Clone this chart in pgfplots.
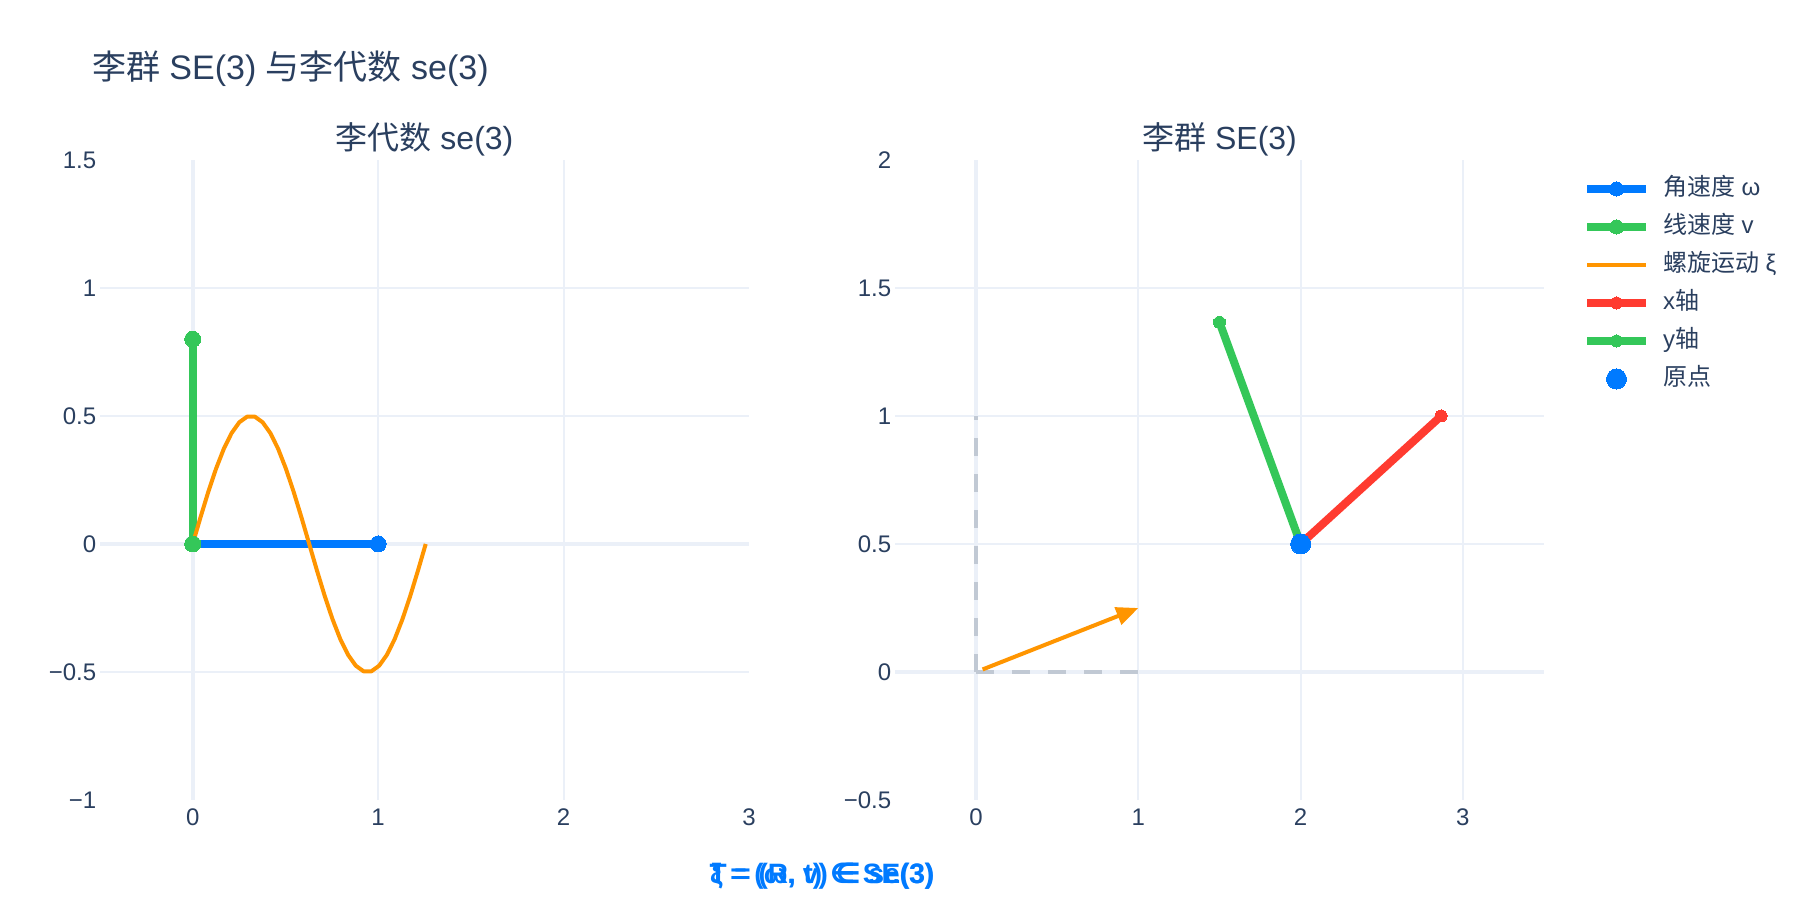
\documentclass[border=0pt]{standalone}
\usepackage{fontspec}
\setmainfont{Liberation Sans}
\newfontfamily\cjk{Noto Sans CJK SC}
\newfontfamily\dejavu{DejaVu Sans}
\usepackage{pgfplots}
\pgfplotsset{compat=1.18}
\usetikzlibrary{arrows.meta}
\definecolor{txt}{HTML}{2A3F5F}
\definecolor{gridc}{HTML}{EBF0F8}
\definecolor{cblue}{HTML}{007AFF}
\definecolor{cgreen}{HTML}{34C759}
\definecolor{corange}{HTML}{FF9500}
\definecolor{cred}{HTML}{FF3B30}
\definecolor{cdash}{HTML}{C1C9D4}

\pgfplotsset{
  base/.style={
    scale only axis, width=324.5bp, height=320bp,
    anchor=south west,
    axis line style={draw=none}, major tick length=0pt, tick style={draw=none},
    grid=major, grid style={gridc, line width=1bp},
    ticklabel style={font=\fontsize{12bp}{14bp}\selectfont, text=txt, inner sep=0pt},
    yticklabel style={anchor=east, xshift=-1.7bp},
    xticklabel style={anchor=north, yshift=-4.4bp},
    extra tick style={grid=none},
  }
}

\pgfplotstableread{
x y
0.0000 0.0000
0.0419 0.1040
0.0838 0.2034
0.1257 0.2939
0.1676 0.3716
0.2094 0.4330
0.2513 0.4755
0.2932 0.4973
0.3351 0.4973
0.3770 0.4755
0.4189 0.4330
0.4608 0.3716
0.5027 0.2939
0.5445 0.2034
0.5864 0.1040
0.6283 0.0000
0.6702 -0.1040
0.7121 -0.2034
0.7540 -0.2939
0.7959 -0.3716
0.8378 -0.4330
0.8796 -0.4755
0.9215 -0.4973
0.9634 -0.4973
1.0053 -0.4755
1.0472 -0.4330
1.0891 -0.3716
1.1310 -0.2939
1.1729 -0.2034
1.2147 -0.1040
1.2566 0.0000
}\screwtable

\begin{document}
\begin{tikzpicture}
\useasboundingbox (0,0) rectangle (900bp,450bp);

% ---------- left: se(3)
\begin{axis}[base, at={(50bp,50bp)},
  xmin=-0.5, xmax=3, ymin=-1, ymax=1.5,
  xtick={0,1,2}, xticklabels={0,1,2},
  extra x ticks={3}, extra x tick labels={3},
  ytick={-0.5,0,0.5,1}, yticklabels={−0.5,0,0.5,1},
  extra y ticks={-1,1.5}, extra y tick labels={−1,1.5},
]
\addplot[forget plot, gridc, line width=2bp] coordinates {(0,-1) (0,1.5)};
\addplot[forget plot, gridc, line width=2bp] coordinates {(-0.5,0) (3,0)};
\addplot[cblue, line width=4bp, mark=*, mark size=4bp, mark options={draw=none, line width=0pt, fill=cblue}] coordinates {(0,0) (1,0)};
\addplot[cgreen, line width=4bp, mark=*, mark size=4bp, mark options={draw=none, line width=0pt, fill=cgreen}] coordinates {(0,0) (0,0.8)};
\addplot[corange, line width=2bp, line join=round] table[x=x, y=y] {\screwtable};
\end{axis}

% ---------- right: SE(3)
\begin{axis}[base, at={(447.5bp,50bp)},
  xmin=-0.5, xmax=3.5, ymin=-0.5, ymax=2,
  xtick={0,1,2,3}, xticklabels={0,1,2,3},
  ytick={0,0.5,1,1.5}, yticklabels={0,0.5,1,1.5},
  extra y ticks={-0.5,2}, extra y tick labels={−0.5,2},
  legend style={draw=none, fill=none, at={(1,1)}, anchor=north west,
    xshift=19.5bp, yshift=-8.5bp, inner sep=0pt, outer sep=0pt,
    font=\fontsize{12bp}{14bp}\selectfont, text=txt,
    row sep=7bp, column sep=6.5bp,
    nodes={inner sep=0pt, text height=9bp, text depth=3bp}},
  legend cell align=left,
  legend image code/.code={\draw[mark repeat=2, mark phase=2, #1] plot coordinates {(0bp,0bp) (14.75bp,0bp) (29.5bp,0bp)};},
]
\addlegendimage{cblue, line width=4bp, mark=*, mark size=3.5bp, mark options={draw=none, line width=0pt, fill=cblue}}
\addlegendentry{{\cjk 角速度} ω}
\addlegendimage{cgreen, line width=4bp, mark=*, mark size=3.5bp, mark options={draw=none, line width=0pt, fill=cgreen}}
\addlegendentry{{\cjk 线速度} v}
\addlegendimage{corange, line width=2bp}
\addlegendentry{{\cjk 螺旋运动} ξ}

\addplot[forget plot, gridc, line width=2bp] coordinates {(0,-0.5) (0,2)};
\addplot[forget plot, gridc, line width=2bp] coordinates {(-0.5,0) (3.5,0)};
\addplot[forget plot, cdash, line width=2bp, dash pattern=on 9bp off 9bp] coordinates {(0,0) (1,0)};
\addplot[forget plot, cdash, line width=2bp, dash pattern=on 9bp off 9bp] coordinates {(0,0) (0,1)};
\addplot[forget plot, corange, line width=2bp, -{Triangle[length=11bp,width=9bp]}] coordinates {(0.04,0.01) (1,0.25)};

\addplot[cred, line width=4bp, mark=*, mark size=3bp, mark options={draw=none, line width=0pt, fill=cred}] coordinates {(2,0.5) (2.866,1.0)};
\addlegendentry{x{\cjk 轴}}
\addplot[cgreen, line width=4bp, mark=*, mark size=3bp, mark options={draw=none, line width=0pt, fill=cgreen}] coordinates {(2,0.5) (1.5,1.366)};
\addlegendentry{y{\cjk 轴}}
\addplot[cblue, only marks, mark=*, mark size=5bp, mark options={draw=none, line width=0pt, fill=cblue}] coordinates {(2,0.5)};
\addlegendentry{{\cjk 原点}}
\end{axis}

% ---------- titles
\node[anchor=west, text=txt, inner sep=0pt, font=\fontsize{17bp}{20bp}\selectfont] at (45.8bp,415.5bp) {{\cjk 李群} SE(3) {\cjk 与李代数} se(3)};
\node[text=txt, inner sep=0pt, font=\fontsize{16bp}{19bp}\selectfont] at (212.25bp,380.5bp) {{\cjk 李代数} se(3)};
\node[text=txt, inner sep=0pt, font=\fontsize{16bp}{19bp}\selectfont] at (609.75bp,380.5bp) {{\cjk 李群} SE(3)};

% ---------- overlapping annotations
\node[text=cblue, inner sep=0pt, font=\bfseries\fontsize{14bp}{17bp}\selectfont] at (411bp,12bp) {ξ = (ω, v) {\dejavu ∈} se(3)};
\node[text=cblue, inner sep=0pt, font=\bfseries\fontsize{14bp}{17bp}\selectfont] at (411bp,12bp) {T = (R, t) {\dejavu ∈} SE(3)};
\end{tikzpicture}
\end{document}
